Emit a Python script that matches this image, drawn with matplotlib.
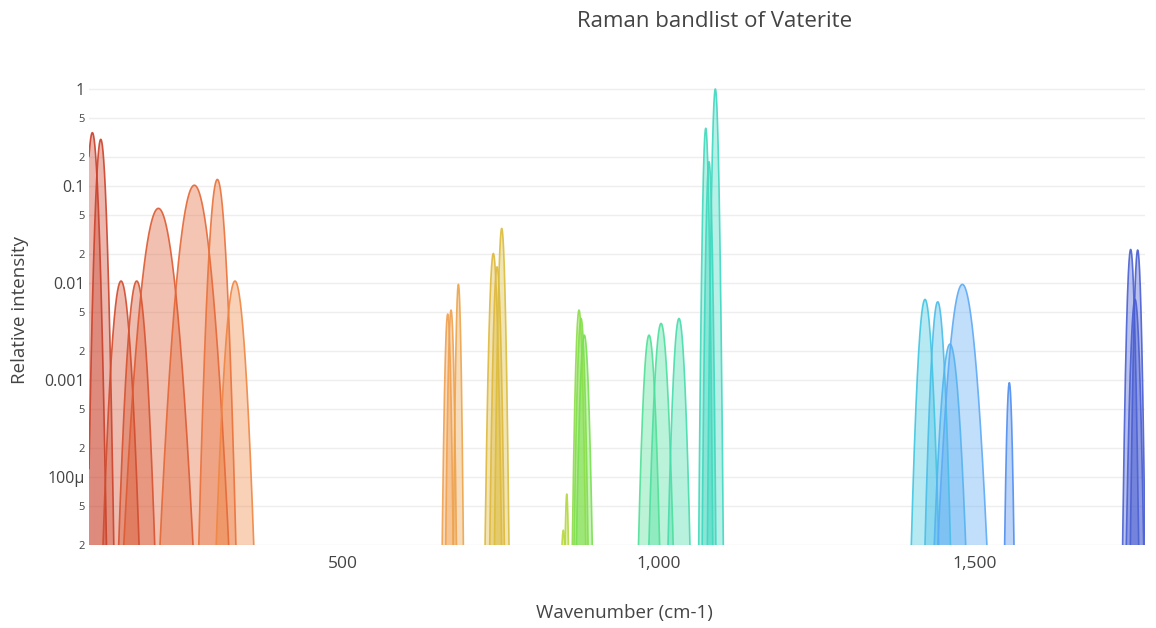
import matplotlib

matplotlib.use("Agg")

import matplotlib.pyplot as plt
import numpy as np
from matplotlib.colors import LinearSegmentedColormap
from matplotlib.ticker import FixedFormatter, FixedLocator


OUT_PATH = "out.png"
DPI = 100
FIGSIZE = (11.56, 6.28)
FONT = ["Open Sans", "DejaVu Sans"]
TEXT_COLOR = "#444444"
GRID_COLOR = "#eeeeee"

# Raman bands: centre (cm-1), relative intensity, FWHM (cm-1)
BAND_CENTERS = [
    103.3, 116.6, 148.7, 173.5, 207.8, 264.7, 301.1, 329.0,
    665.6, 670.9, 682.5,
    737.8, 743.7, 751.1,
    848.6, 854.0, 873.4, 876.6, 881.8,
    984.2, 1003.2, 1031.6,
    1073.9, 1079.1, 1089.1,
    1420.9, 1441.0, 1460.4, 1480.0, 1554.3,
    1746.3, 1753.2, 1757.4,
]
BAND_HEIGHTS = [
    0.355, 0.303, 0.0105, 0.0105, 0.0589, 0.102, 0.117, 0.0105,
    0.0048, 0.00527, 0.0097,
    0.0202, 0.0147, 0.0366,
    2.84e-5, 6.7e-5, 0.00527, 0.00432, 0.00291,
    0.00291, 0.00384, 0.00432,
    0.394, 0.178, 1.0,
    0.00679, 0.00641, 0.00235, 0.0097, 0.00094,
    0.0222, 0.0068, 0.0219,
]
BAND_WIDTHS = [
    11.9, 11.1, 19.0, 19.0, 32.3, 31.0, 16.6, 19.8,
    6.2, 6.0, 5.3,
    8.3, 7.5, 7.0,
    6.0, 4.0, 7.5, 8.0, 9.4,
    12.5, 14.0, 12.5,
    5.9, 6.0, 6.4,
    15.0, 14.0, 19.0, 26.0, 6.3,
    8.0, 9.5, 7.3,
]

X_TICKS = [500, 1000, 1500]
X_TICK_LABELS = ["500", "1,000", "1,500"]
Y_MAJOR_TICKS = [1, 0.1, 0.01, 0.001, 1e-4]
Y_MAJOR_LABELS = ["1", "0.1", "0.01", "0.001", "100\u03bc"]
Y_MINOR_TICKS = [5e-1, 2e-1, 5e-2, 2e-2, 5e-3, 2e-3, 5e-4, 2e-4, 5e-5, 2e-5]
Y_MINOR_LABELS = ["5", "2"] * 5

X_RANGE = (98.0, 1769.0)
Y_RANGE = (2e-5, 1.57)

# band colour runs from red at low wavenumber to indigo at high wavenumber
BAND_CMAP = LinearSegmentedColormap.from_list(
    "bands",
    [
        (0.00, "#c8402a"),
        (0.06, "#dc5a32"),
        (0.12, "#e8703a"),
        (0.14, "#f08a45"),
        (0.34, "#f0a050"),
        (0.39, "#dcbc3c"),
        (0.45, "#b8d840"),
        (0.47, "#78e050"),
        (0.53, "#50e098"),
        (0.59, "#40d8c0"),
        (0.79, "#40c8e0"),
        (0.83, "#60a8f8"),
        (0.87, "#5090f0"),
        (1.00, "#4a5cd0"),
    ],
)


def band_color(center):
    t = (center - X_RANGE[0]) / (X_RANGE[1] - X_RANGE[0])
    return BAND_CMAP(np.clip(t, 0.0, 1.0))


def gaussian(x, center, height, fwhm):
    return height * np.exp(-4.0 * np.log(2.0) * (x - center) ** 2 / fwhm**2)


def draw_bands(ax):
    for center, height, fwhm in zip(BAND_CENTERS, BAND_HEIGHTS, BAND_WIDTHS):
        x = np.linspace(center - 3.5 * fwhm, center + 3.5 * fwhm, 1200)
        y = gaussian(x, center, height, fwhm)
        color = band_color(center)
        ax.fill_between(x, y, 1e-8, color=color, alpha=0.38, lw=0)
        ax.plot(x, y, color=color, lw=1.2, alpha=0.9)


def style_axis(ax):
    ax.set_yscale("log")
    ax.set_xlim(*X_RANGE)
    ax.set_ylim(*Y_RANGE)
    for spine in ax.spines.values():
        spine.set_visible(False)

    ax.set_xticks(X_TICKS)
    ax.set_xticklabels(X_TICK_LABELS)
    ax.yaxis.set_major_locator(FixedLocator(Y_MAJOR_TICKS))
    ax.yaxis.set_major_formatter(FixedFormatter(Y_MAJOR_LABELS))
    ax.yaxis.set_minor_locator(FixedLocator(Y_MINOR_TICKS))
    ax.yaxis.set_minor_formatter(FixedFormatter(Y_MINOR_LABELS))

    ax.tick_params(axis="both", which="both", length=0, colors=TEXT_COLOR)
    ax.tick_params(axis="x", labelsize=12.5, pad=8)
    ax.tick_params(axis="y", which="major", labelsize=11.5, pad=3)
    ax.tick_params(axis="y", which="minor", labelsize=8, pad=3)
    for label in ax.get_xticklabels() + ax.get_yticklabels(which="both"):
        label.set_family(FONT)

    ax.grid(False, axis="x")
    ax.grid(True, axis="y", which="both", color=GRID_COLOR, lw=1.0)
    ax.set_axisbelow(True)


def main():
    plt.rcParams["font.family"] = FONT
    fig = plt.figure(figsize=FIGSIZE, dpi=DPI)
    ax = fig.add_axes([89 / 1156, 83 / 628, 1056 / 1156, 475 / 628])
    draw_bands(ax)
    style_axis(ax)

    fig.text(0.6185, 0.966, "Raman bandlist of Vaterite", ha="center", va="center",
             fontsize=16, color=TEXT_COLOR)
    fig.text(0.54, 0.024, "Wavenumber (cm-1)", ha="center", va="center",
             fontsize=13.5, color=TEXT_COLOR)
    fig.text(0.0173, 0.506, "Relative intensity", ha="center", va="center",
             rotation=90, fontsize=13.5, color=TEXT_COLOR)

    fig.savefig(OUT_PATH, dpi=DPI)
    plt.close(fig)


if __name__ == "__main__":
    main()
